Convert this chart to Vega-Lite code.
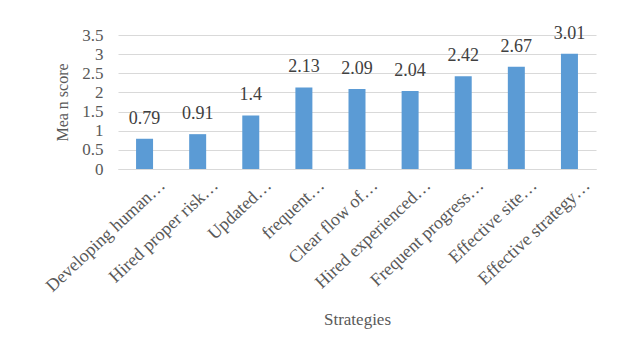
{
  "$schema": "https://vega.github.io/schema/vega-lite/v6.json",
  "width": 478,
  "height": 134,
  "autosize": {"type": "none"},
  "padding": {"left": 118, "top": 35, "right": 28, "bottom": 187},
  "background": "#ffffff",
  "config": {
    "font": "Liberation Serif, serif",
    "view": {"stroke": null}
  },
  "data": {
    "values": [
      {"strategy": "Developing human…", "score": 0.79},
      {"strategy": "Hired proper risk…", "score": 0.91},
      {"strategy": "Updated…", "score": 1.4},
      {"strategy": "frequent…", "score": 2.13},
      {"strategy": "Clear flow of…", "score": 2.09},
      {"strategy": "Hired experienced…", "score": 2.04},
      {"strategy": "Frequent progress…", "score": 2.42},
      {"strategy": "Effective site…", "score": 2.67},
      {"strategy": "Effective strategy…", "score": 3.01}
    ]
  },
  "encoding": {
    "x": {
      "field": "strategy",
      "type": "nominal",
      "sort": null,
      "scale": {"paddingInner": 0.68, "paddingOuter": 0.34},
      "axis": {
        "title": "Strategies",
        "titleFont": "Liberation Serif, serif",
        "titleFontSize": 17,
        "titleFontWeight": "normal",
        "titleColor": "#595959",
        "titlePadding": 16,
        "labelFont": "Liberation Serif, serif",
        "labelAngle": -43,
        "labelFontSize": 18,
        "labelColor": "#595959",
        "labelPadding": 7,
        "labelOffset": 12,
        "labelLimit": 0,
        "ticks": false,
        "domainColor": "#d9d9d9",
        "domainWidth": 1
      }
    },
    "y": {
      "field": "score",
      "type": "quantitative",
      "scale": {"domain": [0, 3.5], "nice": false},
      "axis": {
        "title": "Mea n score",
        "titleFont": "Liberation Serif, serif",
        "titleFontSize": 16,
        "titleFontWeight": "normal",
        "titleColor": "#595959",
        "titlePadding": 11,
        "values": [0, 0.5, 1, 1.5, 2, 2.5, 3, 3.5],
        "format": ".1~f",
        "labelFont": "Liberation Serif, serif",
        "labelFontSize": 17,
        "labelColor": "#595959",
        "labelPadding": 15,
        "ticks": false,
        "domain": false,
        "gridColor": "#d9d9d9",
        "gridWidth": 1.2
      }
    }
  },
  "layer": [
    {"mark": {"type": "bar", "color": "#5b9bd5"}},
    {
      "mark": {"type": "text", "baseline": "bottom", "dy": -11, "font": "Liberation Serif, serif", "fontSize": 18, "color": "#404040"},
      "encoding": {"text": {"field": "score", "type": "quantitative"}}
    }
  ]
}
